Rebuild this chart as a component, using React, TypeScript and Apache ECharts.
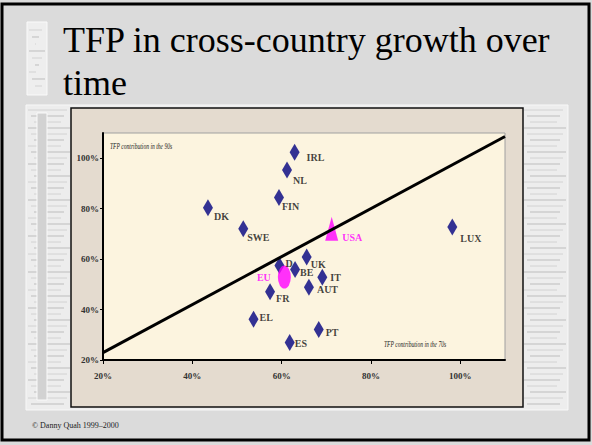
import React, { useEffect, useRef } from 'react';
import * as echarts from 'echarts';

// ---------- data ----------
const countries = ['IRL', 'NL', 'FIN', 'DK', 'SWE', 'LUX', 'UK', 'D', 'BE', 'IT', 'AUT', 'FR', 'EL', 'PT', 'ES'];
const tfp70s = [62.9, 61.2, 59.4, 43.5, 51.4, 98.2, 65.6, 59.5, 63.0, 69.1, 66.1, 57.4, 53.7, 68.3, 61.8];
const tfp90s = [102.4, 95.3, 84.4, 80.4, 72.0, 72.7, 60.8, 57.5, 55.9, 52.8, 48.8, 47.1, 36.2, 32.1, 26.9];
const usaName = 'USA';
const usaPoint = [71.2, 72.0];
const euName = 'EU';
const euPoint = [60.6, 52.9];
const fitLine = [[20, 22.9], [110, 108.6]];
const xTicks = [20, 40, 60, 80, 100];
const yTicks = [20, 40, 60, 80, 100];
const axisMin = 20;
const axisMax = 110;
const titleLines = ['TFP in cross-country growth over', 'time'];
const yAxisNote = 'TFP contribution in the 90s';
const xAxisNote = 'TFP contribution in the 70s';
const footer = '\u00A9 Danny Quah 1999\u20132000';

// ---------- styling ----------
const labelOffsets: Record<string, number[]> = {
  IRL: [7, 5], NL: [1, 10], FIN: [-2, 9], DK: [1, 9], SWE: [-1, 9], LUX: [3, 11],
  UK: [-1, 7], D: [1, -2], BE: [0, 3], IT: [3, 0], AUT: [3, 2], FR: [1, 7],
  EL: [1, -2], PT: [2, 3], ES: [0, 1],
};
const SERIF = '"Liberation Serif", "Times New Roman", serif';
const NAVY = '#000080';
const MAGENTA = '#ff00ff';

function decoLines(x0: number, x1: number, y0: number, y1: number, step: number) {
  const out: any[] = [];
  let k = 0;
  for (let y = y0; y <= y1; y += step) {
    const shrinkL = (k % 3) * 3;
    const shrinkR = ((k + 1) % 4) * 3;
    out.push({
      type: 'line', z: -8, silent: true,
      shape: { x1: x0 + shrinkL, y1: y, x2: x1 - shrinkR, y2: y },
      style: { stroke: k % 2 ? '#bdbdbd' : '#d2d2d2', lineWidth: 1 },
    });
    k++;
  }
  return out;
}

export default function App() {
  const ref = useRef<HTMLDivElement>(null);
  useEffect(() => {
    document.body.style.margin = '0';
    const chart = echarts.init(ref.current!, null, { renderer: 'svg' });
    const labelBase = {
      show: true, fontFamily: SERIF, fontWeight: 'bold', fontSize: 10, color: '#111', formatter: '{b}',
    };
    const axisLabelStyle = { fontFamily: SERIF, fontWeight: 'bold', fontSize: 9, color: '#333' };
    chart.setOption({
      animation: false,
      backgroundColor: '#dbdbdb',
      graphic: {
        elements: [
          // whitish notebook panel
          { type: 'rect', z: -10, silent: true, shape: { x: 26, y: 105, width: 542, height: 305 }, style: { fill: '#ededed', stroke: '#f8f8f8', lineWidth: 1 } },
          ...decoLines(28, 70, 110, 404, 6),
          ...decoLines(524, 566, 110, 404, 6),
          { type: 'rect', z: -7, silent: true, shape: { x: 37, y: 113, width: 10, height: 287 }, style: { fill: '#d2d2d2', stroke: '#fafafa', lineWidth: 1 } },
          // title side box
          { type: 'rect', z: -10, silent: true, shape: { x: 27, y: 22, width: 20, height: 73 }, style: { fill: '#eeeeee', stroke: '#fafafa', lineWidth: 1 } },
          ...decoLines(29, 45, 30, 90, 7),
          // beige chart panel
          { type: 'rect', z: -6, silent: true, shape: { x: 71, y: 108, width: 452, height: 299 }, style: { fill: '#e4dbcf', stroke: '#111', lineWidth: 1.5 } },
          // outer frame
          { type: 'rect', z: 20, silent: true, shape: { x: 2, y: 4, width: 587, height: 436 }, style: { fill: 'none', stroke: '#000', lineWidth: 3 } },
          // title
          { type: 'text', z: 10, x: 63, y: 40, style: { text: titleLines[0], font: `36px ${SERIF}`, fill: '#000', verticalAlign: 'middle' } },
          { type: 'text', z: 10, x: 63, y: 83, style: { text: titleLines[1], font: `36px ${SERIF}`, fill: '#000', verticalAlign: 'middle' } },
          // axis notes
          { type: 'text', z: 10, x: 110, y: 146, scaleX: 0.75, style: { text: yAxisNote, font: `italic 7.5px ${SERIF}`, fill: '#222', verticalAlign: 'middle' } },
          { type: 'text', z: 10, x: 384, y: 344, scaleX: 0.75, style: { text: xAxisNote, font: `italic 7.5px ${SERIF}`, fill: '#222', verticalAlign: 'middle' } },
          // footer
          { type: 'text', z: 10, x: 32, y: 425, style: { text: footer, font: `8px ${SERIF}`, fill: '#222', verticalAlign: 'middle' } },
        ],
      },
      grid: {
        left: 103, top: 133, width: 402, height: 227,
        show: true, backgroundColor: '#fcf4df', borderColor: '#a0a0a0', borderWidth: 1,
        containLabel: false,
      },
      xAxis: {
        type: 'value', min: axisMin, max: axisMax, interval: 20,
        splitLine: { show: false },
        axisLine: { show: true, lineStyle: { color: '#000', width: 2 } },
        axisTick: { show: true, length: 4, lineStyle: { color: '#000' }, customValues: xTicks },
        axisLabel: { ...axisLabelStyle, margin: 11, customValues: xTicks, formatter: (v: number) => `${v}%` },
      },
      yAxis: {
        type: 'value', min: axisMin, max: axisMax, interval: 20,
        splitLine: { show: false },
        axisLine: { show: true, lineStyle: { color: '#000', width: 2 } },
        axisTick: { show: true, length: 3, lineStyle: { color: '#000' }, customValues: yTicks },
        axisLabel: { ...axisLabelStyle, margin: 4, customValues: yTicks, formatter: (v: number) => `${v}%` },
      },
      series: [
        {
          type: 'scatter', name: usaName, symbol: 'triangle', symbolSize: [13, 24],
          itemStyle: { color: MAGENTA },
          label: { ...labelBase, color: MAGENTA, position: 'right', distance: 0, offset: [4, 9] },
          emphasis: { disabled: true },
          data: [{ name: usaName, value: usaPoint }],
        },
        {
          type: 'line', data: fitLine, symbol: 'none',
          lineStyle: { color: '#000', width: 3 },
          emphasis: { disabled: true },
        },
        {
          type: 'scatter', name: 'countries', symbol: 'diamond', symbolSize: [10, 17],
          itemStyle: { color: NAVY },
          label: { ...labelBase, position: 'right', distance: 0 },
          emphasis: { disabled: true },
          data: countries.map((c, i) => ({
            name: c, value: [tfp70s[i], tfp90s[i]],
            label: { offset: labelOffsets[c] },
          })),
        },
        {
          type: 'scatter', name: euName,
          symbol: 'path://M0,-1 A1,1 0 1,1 0,1 A1,1 0 1,1 0,-1 Z', symbolSize: [13, 23],
          itemStyle: { color: MAGENTA },
          label: { ...labelBase, color: MAGENTA, position: 'left', distance: 0, offset: [-7, 0] },
          emphasis: { disabled: true },
          data: [{ name: euName, value: euPoint }],
        },
      ],
    });
    return () => chart.dispose();
  }, []);
  return <div ref={ref} style={{ position: 'absolute', left: 0, top: 0, width: 592, height: 445 }} />;
}
